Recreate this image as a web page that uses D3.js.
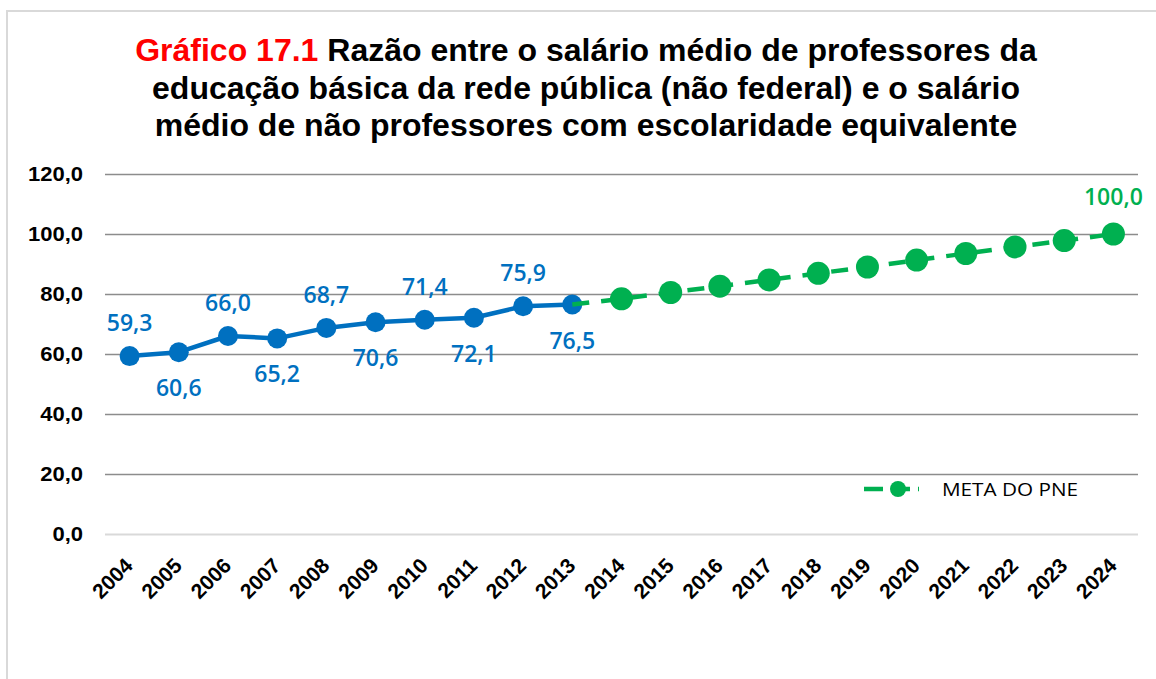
<!DOCTYPE html>
<html lang="pt-BR">
<head>
<meta charset="utf-8">
<script src="https://cdn.jsdelivr.net/npm/d3@7"></script>
<style>
  html, body { margin: 0; padding: 0; background: #fff; }
  svg { display: block; }
</style>
</head>
<body>
<svg id="chart" width="1156" height="679"></svg>
<script>
// Anos do eixo horizontal
const years = ["2004","2005","2006","2007","2008","2009","2010","2011","2012","2013",
               "2014","2015","2016","2017","2018","2019","2020","2021","2022","2023","2024"];

// Razão observada (2004–2013)
const observedYears  = ["2004","2005","2006","2007","2008","2009","2010","2011","2012","2013"];
const observedValues = [59.3, 60.6, 66.0, 65.2, 68.7, 70.6, 71.4, 72.1, 75.9, 76.5];

// Trajetória da meta do PNE (parte de 2013 e chega a 100 em 2024)
const metaYears  = ["2013","2014","2015","2016","2017","2018","2019","2020","2021","2022","2023","2024"];
const metaValues = [76.5, 78.4, 80.5, 82.6, 84.7, 86.9, 89.0, 91.3, 93.5, 95.7, 97.8, 100.0];

// Marcas do eixo vertical
const yTicks = [0, 20, 40, 60, 80, 100, 120];

const titleLines = [
  [{t: "Gráfico 17.1 ", c: "#FF0000"}, {t: "Razão entre o salário médio de professores da", c: "#000"}],
  [{t: "educação básica da rede pública (não federal) e o salário", c: "#000"}],
  [{t: "médio de não professores com escolaridade equivalente", c: "#000"}]
];
const legendLabel = "META DO PNE";

const BLUE = "#0070C0";
const GREEN = "#00B050";

const ptBR = d3.formatLocale({decimal: ",", thousands: ".", grouping: [3], currency: ["R$ ", ""]});
const fmt = ptBR.format(".1f");

const svg = d3.select("#chart");

// moldura do gráfico
svg.append("rect")
  .attr("x", 7).attr("y", 11)
  .attr("width", 1170).attr("height", 700)
  .attr("fill", "#fff")
  .attr("stroke", "#d9d9d9")
  .attr("stroke-width", 2);

// título
const title = svg.append("text")
  .attr("text-anchor", "middle")
  .attr("font-family", "'Liberation Sans', Arial, sans-serif")
  .attr("font-weight", "bold")
  .attr("font-size", 32);
titleLines.forEach((line, i) => {
  const tl = title.append("tspan").attr("x", 586).attr("y", 61 + i * 37.5);
  line.forEach(part => {
    tl.append("tspan").attr("fill", part.c).text(part.t);
  });
});

const plot = {left: 105, right: 1138, top: 174, bottom: 534};

const x = d3.scalePoint()
  .domain(years)
  .range([plot.left, plot.right])
  .padding(0.5);

const y = d3.scaleLinear()
  .domain([0, 120])
  .range([plot.bottom, plot.top]);

// linhas de grade + rótulos do eixo Y
const yAxis = svg.append("g")
  .attr("transform", `translate(${plot.left},0)`)
  .call(d3.axisLeft(y)
    .tickValues(yTicks)
    .tickSize(-(plot.right - plot.left))
    .tickPadding(20)
    .tickFormat(fmt));
yAxis.select(".domain").remove();
yAxis.selectAll(".tick line")
  .attr("stroke", d => d === 0 ? "#d9d9d9" : "#8c8c8c")
  .attr("stroke-width", d => d === 0 ? 2.2 : 1.5);
yAxis.selectAll(".tick text")
  .attr("font-family", "'Liberation Sans', Arial, sans-serif")
  .attr("font-weight", "bold")
  .attr("font-size", 20)
  .attr("fill", "#000")
  .attr("transform", "scale(1.1,1)");

// rótulos do eixo X (anos, inclinados)
const xAxis = svg.append("g")
  .attr("transform", `translate(0,${plot.bottom})`)
  .call(d3.axisBottom(x).tickSize(0).tickPadding(0));
xAxis.select(".domain").remove();
xAxis.selectAll(".tick text")
  .attr("font-family", "'Liberation Sans', Arial, sans-serif")
  .attr("font-weight", "bold")
  .attr("font-size", 21)
  .attr("fill", "#000")
  .attr("text-anchor", "end")
  .attr("dy", null)
  .attr("y", null)
  .attr("transform", "translate(4,33) rotate(-45)");

const line = d3.line()
  .x(d => x(d.year))
  .y(d => y(d.value));

const observed = observedYears.map((yr, i) => ({year: yr, value: observedValues[i]}));
const meta = metaYears.map((yr, i) => ({year: yr, value: metaValues[i]}));

// série observada
svg.append("path")
  .datum(observed)
  .attr("fill", "none")
  .attr("stroke", BLUE)
  .attr("stroke-width", 4.5)
  .attr("stroke-linejoin", "round")
  .attr("d", line);

svg.append("g").selectAll("circle")
  .data(observed)
  .join("circle")
  .attr("cx", d => x(d.year))
  .attr("cy", d => y(d.value))
  .attr("r", 10)
  .attr("fill", BLUE);

svg.append("g").selectAll("text")
  .data(observed)
  .join("text")
  .attr("x", d => x(d.year))
  .attr("y", (d, i) => y(d.value) + (i % 2 === 0 ? -25 : 44))
  .attr("text-anchor", "middle")
  .attr("font-family", "'Open Sans', sans-serif")
  .attr("font-weight", 600)
  .attr("font-size", 23)
  .attr("fill", BLUE)
  .text(d => fmt(d.value));

// meta do PNE
svg.append("path")
  .datum(meta)
  .attr("fill", "none")
  .attr("stroke", GREEN)
  .attr("stroke-width", 4.5)
  .attr("stroke-dasharray", "17,12")
  .attr("d", line);

svg.append("g").selectAll("circle")
  .data(meta.slice(1))
  .join("circle")
  .attr("cx", d => x(d.year))
  .attr("cy", d => y(d.value))
  .attr("r", 11.5)
  .attr("fill", GREEN);

const lastMeta = meta[meta.length - 1];
svg.append("text")
  .attr("x", x(lastMeta.year))
  .attr("y", y(lastMeta.value) - 29)
  .attr("text-anchor", "middle")
  .attr("font-family", "'Open Sans', sans-serif")
  .attr("font-weight", 600)
  .attr("font-size", 23)
  .attr("fill", GREEN)
  .text(fmt(lastMeta.value));

// legenda
const legend = svg.append("g").attr("transform", "translate(864,489)");
legend.append("line")
  .attr("x1", 0).attr("x2", 55)
  .attr("y1", 0).attr("y2", 0)
  .attr("stroke", GREEN)
  .attr("stroke-width", 4.5)
  .attr("stroke-dasharray", "19,8");
legend.append("circle")
  .attr("cx", 34).attr("cy", 0).attr("r", 8)
  .attr("fill", GREEN);
legend.append("text")
  .attr("x", 78).attr("y", 7)
  .attr("font-family", "'Open Sans', sans-serif")
  .attr("font-size", 18)
  .attr("fill", "#000")
  .attr("textLength", 136)
  .attr("lengthAdjust", "spacingAndGlyphs")
  .text(legendLabel);
</script>
</body>
</html>
